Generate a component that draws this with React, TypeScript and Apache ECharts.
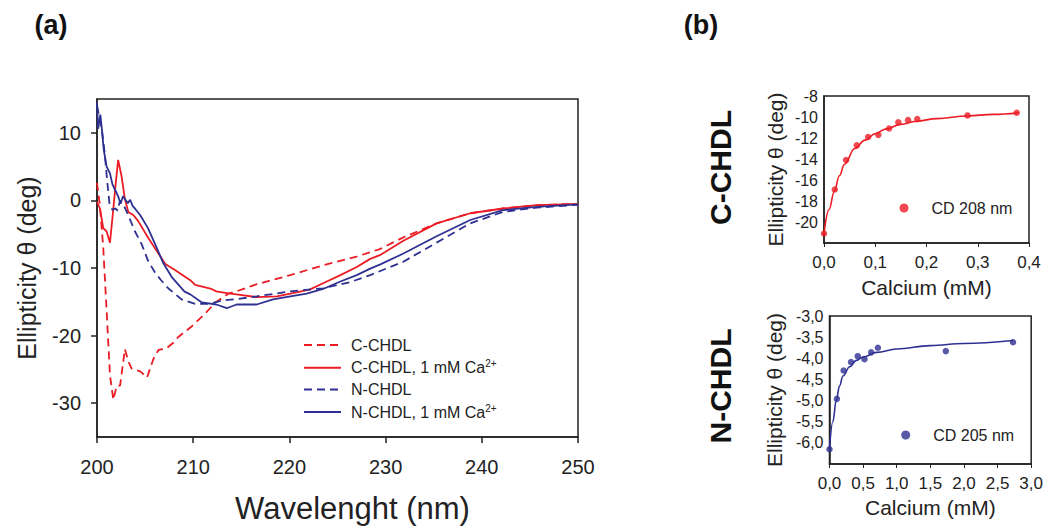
import React, { useEffect, useRef } from "react";
import * as echarts from "echarts";

// ---------- Panel (a): CD spectra ----------
const cDashX = [200.0, 200.3, 200.65, 201.0, 201.35, 201.7, 202.05, 202.4, 202.9, 203.25, 203.6, 204.5, 205.2, 205.85, 206.4, 207.2, 207.9, 208.45, 209.8, 211.2, 212.3, 213.65, 214.5, 216.6, 220.1, 223.5, 227.0, 229.4, 231.8, 235.3, 238.8, 242.2, 245.7, 250.0];
const cDashY = [2.6, -0.7, -7.0, -16.3, -25.9, -29.5, -27.4, -27.4, -22.0, -23.8, -24.9, -25.3, -26.2, -23.5, -22.1, -21.9, -21.1, -20.2, -18.7, -16.8, -15.1, -13.8, -13.45, -12.4, -11.05, -9.6, -8.3, -7.2, -5.5, -3.4, -1.9, -1.2, -0.75, -0.5];

const cCaX = [200.0, 200.3, 200.65, 201.0, 201.35, 201.7, 201.95, 202.2, 202.55, 202.9, 203.25, 203.8, 204.3, 205.3, 206.4, 207.1, 208.1, 209.15, 209.7, 210.2, 211.05, 211.9, 212.4, 213.65, 214.5, 216.6, 218.7, 220.1, 222.1, 223.5, 225.3, 227.0, 228.4, 229.4, 231.8, 235.3, 238.8, 242.2, 245.7, 250.0];
const cCaY = [-0.2, -1.2, -4.1, -4.6, -6.25, -1.2, 2.6, 6.0, 3.6, 0.2, -1.7, -2.2, -3.1, -5.5, -7.9, -9.4, -10.3, -11.3, -11.8, -12.5, -12.8, -13.1, -13.45, -13.75, -13.9, -14.3, -14.2, -13.8, -13.2, -12.25, -11.05, -9.85, -8.65, -8.1, -6.0, -3.4, -1.9, -1.2, -0.7, -0.5];

const nDashX = [200.0, 200.3, 200.55, 200.8, 201.05, 201.3, 201.6, 201.9, 202.15, 202.4, 202.8, 203.25, 203.95, 204.65, 205.3, 206.0, 206.6, 207.4, 208.8, 210.2, 211.6, 213.1, 214.5, 216.6, 220.1, 223.5, 226.3, 228.4, 231.8, 235.3, 238.8, 242.2, 245.7, 250.0];
const nDashY = [14.0, 12.0, 10.0, 7.0, 3.0, -0.5, -1.4, -1.2, -1.5, 0.0, -0.8, -2.2, -4.6, -6.5, -8.9, -10.6, -11.7, -13.0, -14.65, -15.3, -15.3, -14.8, -14.6, -14.2, -13.45, -13.0, -12.1, -11.05, -9.1, -6.25, -3.4, -1.7, -1.07, -0.65];

const nCaX = [200.0, 200.12, 200.35, 200.5, 200.7, 201.0, 201.35, 201.6, 201.9, 202.2, 202.45, 202.7, 202.95, 203.2, 203.45, 203.7, 204.0, 204.5, 205.3, 206.2, 206.9, 207.8, 209.1, 209.7, 210.9, 212.4, 213.5, 214.5, 216.6, 218.3, 220.1, 221.8, 223.5, 225.3, 227.0, 228.4, 229.4, 231.8, 235.3, 238.8, 242.2, 245.7, 250.0];
const nCaY = [14.5, 10.6, 12.7, 10.6, 7.5, 5.0, 4.0, 2.4, 1.5, 0.6, -0.5, 0.6, 0.1, -0.4, 0.1, -0.8, -1.3, -2.2, -4.1, -7.0, -9.3, -11.4, -13.5, -13.9, -15.1, -15.4, -15.95, -15.4, -15.4, -14.65, -14.2, -13.8, -13.1, -12.0, -11.05, -10.1, -9.5, -7.9, -5.3, -2.9, -1.45, -0.97, -0.6];

const seriesNamesA = ["C-CHDL", "C-CHDL, 1 mM Ca2+", "N-CHDL", "N-CHDL, 1 mM Ca2+"];
const yTicksA = [-30, -20, -10, 0, 10];

// ---------- Panel (b) top: C-CHDL titration ----------
const cCalcium = [0, 0.021, 0.043, 0.064, 0.086, 0.106, 0.127, 0.145, 0.164, 0.182, 0.28, 0.376];
const cTheta = [-21.1, -16.9, -14.1, -12.7, -11.9, -11.7, -11.1, -10.5, -10.3, -10.2, -9.85, -9.6];
const cFitX = [0, 0.01, 0.02, 0.03, 0.04, 0.06, 0.08, 0.1, 0.12, 0.15, 0.18, 0.22, 0.28, 0.33, 0.38];
const cFitY = [-21.1, -18.8, -17.1, -15.6, -14.5, -13.0, -12.2, -11.6, -11.15, -10.7, -10.4, -10.15, -9.9, -9.75, -9.6];

// ---------- Panel (b) bottom: N-CHDL titration ----------
const nCalcium = [0, 0.11, 0.21, 0.32, 0.42, 0.52, 0.62, 0.72, 1.73, 2.73];
const nTheta = [-6.15, -4.96, -4.29, -4.09, -3.95, -4.02, -3.86, -3.75, -3.83, -3.62];
const nFitX = [0, 0.05, 0.1, 0.15, 0.2, 0.3, 0.4, 0.5, 0.7, 1.0, 1.5, 2.0, 2.73];
const nFitY = [-6.15, -5.5, -5.0, -4.65, -4.42, -4.2, -4.05, -3.97, -3.86, -3.78, -3.7, -3.65, -3.58];

const RED = "#ec1c24";
const BLUE = "#2e3192";
const INK = "#222";
const FONT = "Liberation Sans, Arial, sans-serif";

const zip = (xs: number[], ys: number[]) => xs.map((x, i) => [x, ys[i]]);
const comma = (v: number) => v.toFixed(1).replace(".", ",");

export default function App() {
  const ref = useRef<HTMLDivElement>(null);
  useEffect(() => {
    document.body.style.margin = "0";
    if (!ref.current) return;
    const chart = echarts.init(ref.current, undefined, { renderer: "svg" });

    const axisLine = { onZero: false, lineStyle: { color: INK, width: 1.5 } };
    const gridBox = { show: true, borderColor: INK, borderWidth: 1.5, backgroundColor: "transparent" };

    const lineSeries = (name: string, xs: number[], ys: number[], color: string, dashed: boolean) => ({
      name,
      type: "line",
      xAxisIndex: 0,
      yAxisIndex: 0,
      data: zip(xs, ys),
      showSymbol: false,
      symbol: "none",
      itemStyle: { color },
      lineStyle: { color, width: 1.8, type: dashed ? [8, 5] : "solid" },
    });

    const option: any = {
      animation: false,
      textStyle: { fontFamily: FONT },
      grid: [
        { left: 97, top: 99, width: 481, height: 346, ...gridBox },
        { left: 824, top: 96, width: 205, height: 147, ...gridBox },
        { left: 829.5, top: 316, width: 203, height: 148, ...gridBox },
      ],
      xAxis: [
        {
          gridIndex: 0, type: "value", min: 200, max: 250, interval: 10,
          axisLine, axisTick: { length: 6, lineStyle: { color: INK, width: 1.5 } },
          axisLabel: { fontSize: 20, color: INK, margin: 20 },
          splitLine: { show: false },
          name: "Wavelenght (nm)", nameLocation: "middle", nameGap: 56,
          nameTextStyle: { fontSize: 31, color: INK, padding: [0, 0, 0, 30] },
        },
        {
          gridIndex: 1, type: "value", min: 0, max: 0.4, interval: 0.1,
          axisLine, axisTick: { length: 4, lineStyle: { color: INK } },
          axisLabel: { fontSize: 17, color: INK, margin: 11, formatter: comma },
          splitLine: { show: false },
          name: "Calcium (mM)", nameLocation: "middle", nameGap: 34,
          nameTextStyle: { fontSize: 21, color: INK },
        },
        {
          gridIndex: 2, type: "value", min: 0, max: 3, interval: 0.5,
          axisLine, axisTick: { length: 4, lineStyle: { color: INK } },
          axisLabel: { fontSize: 17, color: INK, margin: 11, formatter: comma },
          splitLine: { show: false },
          name: "Calcium (mM)", nameLocation: "middle", nameGap: 33,
          nameTextStyle: { fontSize: 21, color: INK },
        },
      ],
      yAxis: [
        {
          gridIndex: 0, type: "value", min: -35, max: 15,
          axisLine, axisTick: { length: 6, customValues: yTicksA, lineStyle: { color: INK, width: 1.5 } },
          axisLabel: { fontSize: 20, color: INK, margin: 16, customValues: yTicksA },
          splitLine: { show: false },
          name: "Ellipticity θ (deg)", nameLocation: "middle", nameGap: 58,
          nameTextStyle: { fontSize: 25, color: INK },
        },
        {
          gridIndex: 1, type: "value", min: -22, max: -8, interval: 2,
          axisLine, axisTick: { show: false },
          axisLabel: { fontSize: 16, color: INK, margin: 6, showMinLabel: false },
          splitLine: { show: false },
          name: "Ellipticity θ (deg)", nameLocation: "middle", nameGap: 38,
          nameTextStyle: { fontSize: 21, color: INK },
        },
        {
          gridIndex: 2, type: "value", min: -6.5, max: -3, interval: 0.5,
          axisLine, axisTick: { show: false },
          axisLabel: { fontSize: 16, color: INK, margin: 6, showMinLabel: false, formatter: comma },
          splitLine: { show: false },
          name: "Ellipticity θ (deg)", nameLocation: "middle", nameGap: 45,
          nameTextStyle: { fontSize: 21, color: INK },
        },
      ],
      legend: [
        {
          left: 303, top: 337, orient: "vertical", padding: 0,
          itemWidth: 37, itemHeight: 14, itemGap: 5.7,
          data: seriesNamesA,
          itemStyle: { color: "transparent", borderWidth: 0 },
          formatter: (name: string) =>
            name.endsWith("Ca2+") ? `{n|${name.slice(0, -2)}}{sup|2+}` : `{n|${name}}`,
          textStyle: {
            color: INK, fontSize: 16, padding: [0, 0, 0, 5],
            rich: {
              n: { fontSize: 16, color: INK, fontFamily: FONT },
              sup: { fontSize: 10, color: INK, fontFamily: FONT, padding: [0, 0, 8, 0] },
            },
          },
        },
        {
          left: 899.5, top: 200, padding: 0, icon: "circle", itemWidth: 9, itemHeight: 9,
          data: ["CD 208 nm"],
          textStyle: { color: INK, fontSize: 16, padding: [0, 0, 0, 18] },
        },
        {
          left: 901.2, top: 427, padding: 0, icon: "circle", itemWidth: 9, itemHeight: 9,
          data: ["CD 205 nm"],
          textStyle: { color: INK, fontSize: 16, padding: [0, 0, 0, 18] },
        },
      ],
      series: [
        lineSeries(seriesNamesA[0], cDashX, cDashY, RED, true),
        lineSeries(seriesNamesA[1], cCaX, cCaY, RED, false),
        lineSeries(seriesNamesA[2], nDashX, nDashY, BLUE, true),
        lineSeries(seriesNamesA[3], nCaX, nCaY, BLUE, false),
        {
          name: "C fit", type: "line", xAxisIndex: 1, yAxisIndex: 1,
          data: zip(cFitX, cFitY), showSymbol: false, symbol: "none",
          smooth: 0.4, smoothMonotone: "x",
          lineStyle: { color: RED, width: 1.6 }, itemStyle: { color: RED },
        },
        {
          name: "CD 208 nm", type: "scatter", xAxisIndex: 1, yAxisIndex: 1,
          data: zip(cCalcium, cTheta), symbolSize: 6.5, itemStyle: { color: RED },
        },
        {
          name: "N fit", type: "line", xAxisIndex: 2, yAxisIndex: 2,
          data: zip(nFitX, nFitY), showSymbol: false, symbol: "none",
          smooth: 0.4, smoothMonotone: "x",
          lineStyle: { color: BLUE, width: 1.6 }, itemStyle: { color: BLUE },
        },
        {
          name: "CD 205 nm", type: "scatter", xAxisIndex: 2, yAxisIndex: 2,
          data: zip(nCalcium, nTheta), symbolSize: 6.5, itemStyle: { color: BLUE },
        },
      ],
      graphic: [
        { type: "text", x: 51, y: 25, style: { text: "(a)", font: `bold 27px ${FONT}`, fill: "#111", align: "center", verticalAlign: "middle" } },
        { type: "text", x: 701, y: 25, style: { text: "(b)", font: `bold 27px ${FONT}`, fill: "#111", align: "center", verticalAlign: "middle" } },
        { type: "text", x: 720, y: 167.5, rotation: Math.PI / 2, style: { text: "C-CHDL", font: `bold 30px ${FONT}`, fill: "#111", align: "center", verticalAlign: "middle" } },
        { type: "text", x: 720, y: 386, rotation: Math.PI / 2, style: { text: "N-CHDL", font: `bold 30px ${FONT}`, fill: "#111", align: "center", verticalAlign: "middle" } },
      ],
    };
    chart.setOption(option);
    return () => chart.dispose();
  }, []);
  return <div ref={ref} style={{ width: 1046, height: 529 }} />;
}
